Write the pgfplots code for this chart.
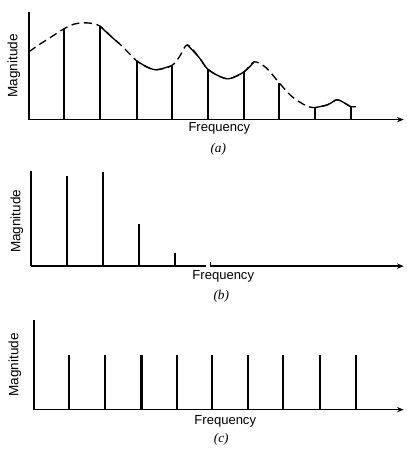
\documentclass[border=0pt]{standalone}
\usepackage{pgfplots}
\pgfplotsset{compat=1.18}
\usepackage{pgfplotstable}
\usetikzlibrary{arrows.meta}
\usepackage{fontspec}
\setmainfont{Liberation Sans}
\newfontfamily\seriffont{Liberation Serif}

\pgfplotstableread{
x y
35 91
71 94
108 59
144 54
180 51
216 48
251 37
287 12
323 13
}\stemsA

\pgfplotstableread{
x y
0 68
10 75
21 82
35 91
46 96
59 97
71 94
84 82
91 76
101 66
108 59
118 53
128 50
143 54
151 63
159 75
171 62
179 51
190 44
201 41
216 48
226 58
238 52
251 37
264 23
278 14
287 12
300 15
309 20
316 17
323 13
328 13
}\envA

\pgfplotstableread{
x y
36 90
72 94
108 42
145 13
}\stemsB

\pgfplotstableread{
x y
35 55
71 55
108 55
144 55
179 55
215 55
250 55
287 55
323 55
}\stemsC

\pgfplotsset{panel/.style={
  axis lines=left, x=0.75pt, y=0.75pt, xmin=0, ymin=0,
  enlargelimits=false, ticks=none, clip=false, anchor=south west,
  axis line style={line width=1.1pt},
  x axis line style={-{Stealth[length=5pt,width=4pt]}},
  y axis line style={-},
}}

\begin{document}
\begin{tikzpicture}
\path (0,0) rectangle (306pt,-337.5pt);

% (a)
\begin{axis}[panel, at={(21.75pt,-90pt)}, xmax=376, ymax=108]
\addplot[ycomb, line width=1.5pt, black] table[x=x,y=y] {\stemsA};
\addplot[smooth, tension=0.5, line width=1pt, black, dash pattern=on 6pt off 3.5pt] table[x=x,y=y] {\envA};
\addplot[smooth, tension=0.5, line width=1pt, black] coordinates {(71,94)(84,82)(91,76)};
\addplot[smooth, tension=0.5, line width=1pt, black] coordinates {(108,59)(118,53)(128,50)(143,54)};
\addplot[smooth, tension=0.5, line width=1pt, black] coordinates {(159,75)(171,62)(179,51)(190,44)(201,41)(216,48)(226,58)};
\addplot[smooth, tension=0.5, line width=1pt, black] coordinates {(287,12)(300,15)(309,20)(316,17)(323,13)(328,13)};
\end{axis}

% (b)
\begin{axis}[panel, at={(23.25pt,-200.25pt)}, xmax=374, ymax=95,
  x axis line style={-{Stealth[length=5pt,width=4pt]}, dash pattern=on 132pt off 3pt on 400pt}]
\addplot[ycomb, line width=1.5pt, black] table[x=x,y=y] {\stemsB};
\addplot[line width=0.8pt, black] coordinates {(180,4)(180,0)};
\end{axis}

% (c)
\begin{axis}[panel, at={(25.5pt,-308.25pt)}, xmax=371, ymax=90]
\addplot[ycomb, line width=1.6pt, black] table[x=x,y=y] {\stemsC};
\end{axis}

\node[rotate=90, font=\fontsize{10.2}{12}\selectfont] at (10.5pt,-49.5pt) {Magnitude};
\node[font=\fontsize{9.8}{11}\selectfont] at (165pt,-96.75pt) {Frequency};
\node[font=\seriffont\itshape\fontsize{10}{11}\selectfont] at (164.25pt,-112.5pt) {(a)};

\node[rotate=90, font=\fontsize{10.2}{12}\selectfont] at (12.75pt,-166.5pt) {Magnitude};
\node[font=\fontsize{9.8}{11}\selectfont] at (168pt,-207.75pt) {Frequency};
\node[font=\seriffont\itshape\fontsize{10}{11}\selectfont] at (166.5pt,-222.75pt) {(b)};

\node[rotate=90, font=\fontsize{10.2}{12}\selectfont] at (11.25pt,-274.5pt) {Magnitude};
\node[font=\fontsize{9.8}{11}\selectfont] at (169.5pt,-317.25pt) {Frequency};
\node[font=\seriffont\itshape\fontsize{10}{11}\selectfont] at (166.5pt,-330.75pt) {(c)};
\end{tikzpicture}
\end{document}
